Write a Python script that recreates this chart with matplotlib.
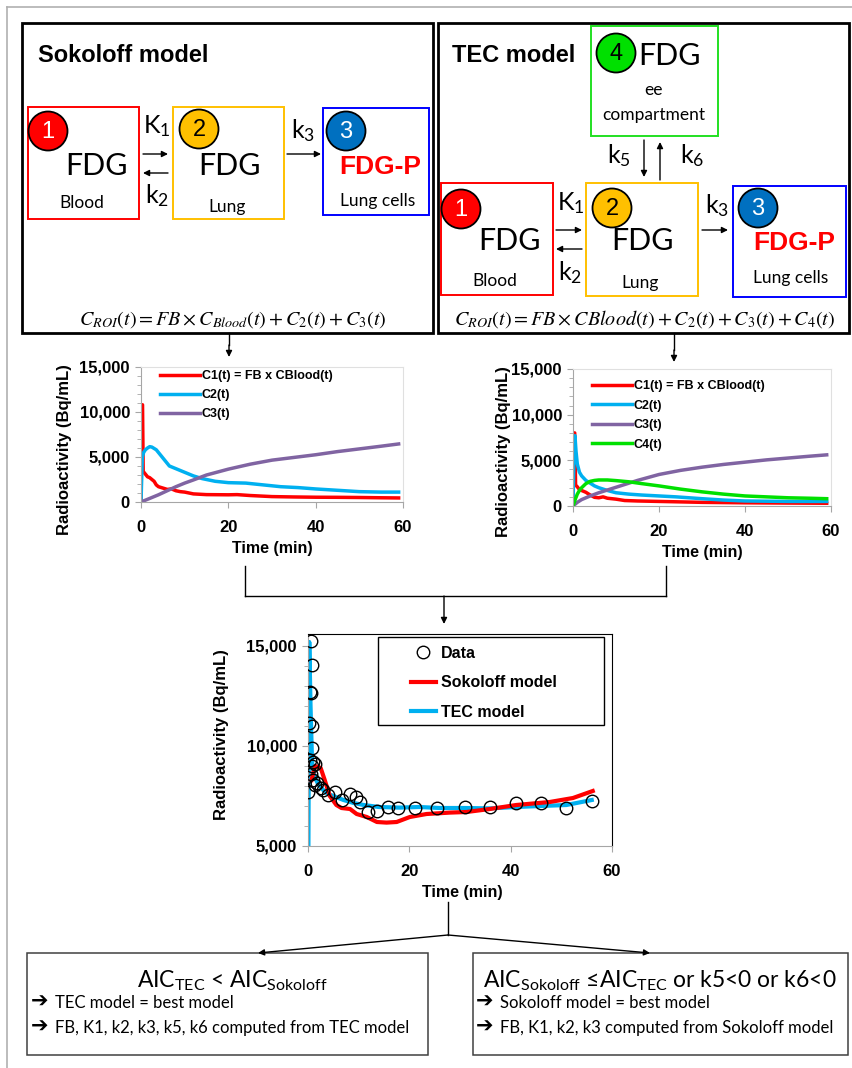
import matplotlib.pyplot as plt
from matplotlib.patches import Rectangle, Circle
from matplotlib.lines import Line2D
from matplotlib.ticker import FuncFormatter, MultipleLocator

W, H = 853, 1068
plt.rcParams['mathtext.fontset'] = 'custom'
plt.rcParams['mathtext.rm'] = 'Lato'
plt.rcParams['mathtext.it'] = 'Lato:italic'
plt.rcParams['mathtext.bf'] = 'Lato:bold'

CAL = ['Lato', 'DejaVu Sans']
ARIAL = 'Liberation Sans'

RED, ORANGE, BLUE, GREEN = '#FF0000', '#FFC000', '#0000FF', '#22E022'
CYAN, PURPLE, LIME = '#00B0F0', '#8064A2', '#00E000'

# --- Sokoloff model curves (Bq/mL vs min)
sok_c1_t = [0, 0.15, 0.35, 0.5, 1, 1.5, 2, 2.5, 3, 3.5, 4, 5, 6, 7, 8, 9, 10, 12, 15, 20, 22, 25, 30, 35, 40, 45, 50, 55, 59]
sok_c1_v = [0, 10800, 10800, 3400, 3100, 2800, 2700, 2500, 2300, 1900, 1700, 1550, 1400, 1450, 1250, 1150, 1100, 900, 820, 800, 820, 720, 600, 560, 530, 520, 500, 470, 450]
sok_c2_t = [0, 0.3, 0.6, 1.0, 1.5, 2.0, 2.5, 3.5, 4.5, 5.5, 6.5, 8, 10, 12, 14, 17, 20, 24, 28, 32, 36, 40, 45, 50, 55, 59]
sok_c2_v = [0, 5000, 5500, 5800, 6000, 6150, 6100, 5800, 5200, 4600, 4000, 3700, 3300, 2900, 2600, 2300, 2150, 2100, 1900, 1700, 1600, 1450, 1300, 1150, 1100, 1100]
sok_c3_t = [0, 2, 4, 6, 8, 10, 12, 15, 20, 25, 30, 35, 40, 45, 50, 55, 59]
sok_c3_v = [0, 400, 800, 1250, 1700, 2100, 2450, 3000, 3650, 4200, 4650, 4950, 5250, 5600, 5900, 6200, 6450]

# --- TEC model curves
tec_c1_t = [0, 0.1, 0.4, 0.6, 1.0, 1.5, 2, 3, 4, 5, 6, 7, 8, 10, 12, 15, 20, 25, 30, 40, 50, 59]
tec_c1_v = [0, 8000, 8000, 2300, 2100, 1800, 1700, 1500, 1200, 950, 900, 1000, 850, 750, 600, 550, 500, 450, 400, 350, 320, 300]
tec_c2_t = [0, 0.2, 0.45, 0.7, 1.0, 1.5, 2, 3, 4, 5, 6, 8, 10, 13, 16, 20, 24, 30, 35, 40, 50, 59]
tec_c2_v = [0, 5000, 7700, 6000, 4600, 3700, 3300, 2800, 2500, 2200, 2000, 1700, 1450, 1300, 1200, 1100, 1000, 800, 650, 550, 500, 500]
tec_c3_t = [0, 1, 2, 4, 6, 8, 10, 12, 15, 20, 25, 30, 35, 40, 45, 50, 55, 59]
tec_c3_v = [0, 400, 700, 1100, 1450, 1750, 2050, 2350, 2800, 3450, 3900, 4250, 4550, 4800, 5050, 5250, 5450, 5600]
tec_c4_t = [0, 0.5, 1, 1.5, 2, 3, 4, 5, 6, 8, 10, 13, 16, 20, 25, 30, 35, 40, 45, 50, 55, 59]
tec_c4_v = [0, 700, 1300, 1700, 2000, 2450, 2700, 2800, 2850, 2850, 2780, 2650, 2450, 2200, 1850, 1550, 1300, 1100, 1000, 900, 850, 800]

# --- measured ROI data and both fits
data_t = [0.6, 0.7, 0.4, 0.5, 0.2, 0.7, 0.7, 0.4, 1.0, 0.7, 1.3, 0.5, 1.0, 1.7, 1.3, 0.0, 2.5, 3.0, 4.0,
          5.4, 6.8, 8.3, 9.4, 10.3, 11.9, 13.7, 15.7, 17.7, 21.1, 25.4, 31.0, 36.0, 41.1, 46.0, 50.9, 56.0]
data_v = [15250, 14050, 12700, 12650, 11150, 11000, 9900, 9300, 9200, 9000, 9100, 8600, 8300, 8150, 8050, 7700, 7900, 7800, 7550,
          7700, 7300, 7600, 7450, 7200, 6700, 6750, 6950, 6920, 6920, 6880, 6930, 6930, 7150, 7130, 6920, 7250]
sok_fit_t = [0.7, 1.0, 1.4, 2.0, 2.5, 3.3, 4.3, 5.6, 6.6, 8.3, 9.6, 11.6, 13.6, 15.5, 17.5, 20.1, 23.4, 28.0, 31.3, 35.9, 41.1, 47.7, 52.3, 56.2]
sok_fit_v = [8300, 8600, 9000, 8950, 8900, 8300, 7500, 7050, 6900, 6850, 6600, 6450, 6200, 6170, 6200, 6450, 6600, 6670, 6700, 6850, 7050, 7200, 7400, 7750]
tec_fit_t = [0, 0.25, 0.5, 0.8, 1.2, 1.6, 2.0, 3, 4, 5, 7, 9, 11, 14, 18, 22, 26, 31, 36, 41, 46, 51, 56]
tec_fit_v = [0, 15200, 12000, 9200, 8600, 8300, 8100, 7800, 7600, 7500, 7300, 7150, 7050, 6950, 6920, 6950, 6900, 6900, 6880, 6950, 7000, 7050, 7300]

fig = plt.figure(figsize=(W / 100, H / 100), dpi=100)
cv = fig.add_axes([0, 0, 1, 1])
cv.set_xlim(0, W)
cv.set_ylim(H, 0)
cv.axis('off')


def box(x0, y0, x1, y1, color, lw=1.4):
    cv.add_patch(Rectangle((x0, y0), x1 - x0, y1 - y0, fill=False, ec=color, lw=lw))


def badge(cx, cy, label, face, tc):
    cv.add_patch(Circle((cx, cy), 19.5, fc=face, ec='black', lw=1.3, zorder=3))
    cv.text(cx, cy + 1, label, ha='center', va='center', color=tc, family=ARIAL, fontsize=17, zorder=4)


def t(x, y, s, size, ha='center', **kw):
    kw.setdefault('family', CAL)
    cv.text(x, y, s, ha=ha, va='baseline', fontsize=size, **kw)


def arrow(x0, y0, x1, y1, lw=1.0):
    cv.annotate('', xy=(x1, y1), xytext=(x0, y0),
                arrowprops=dict(arrowstyle='-|>', color='black', lw=lw, mutation_scale=9,
                                shrinkA=0, shrinkB=0))


def line(xs, ys, lw=1.0, color='black'):
    cv.add_line(Line2D(xs, ys, color=color, lw=lw))


# outer frame
line([7, 7], [7, H], color='#B0B0B0', lw=1.2)
line([7, W], [7, 7], color='#B0B0B0', lw=1.2)

# ---------------- Sokoloff panel
box(22, 23, 433, 333, 'black', lw=2)
t(38, 62, 'Sokoloff model', 17, ha='left', family=ARIAL, weight='bold')
box(28, 107, 139, 219, RED)
box(173, 107, 284, 219, ORANGE)
box(323, 108, 429, 215, BLUE)
badge(48, 131, '1', RED, 'white')
badge(199, 129, '2', ORANGE, 'black')
badge(346, 131, '3', '#0070C0', 'white')
t(97, 175, 'FDG', 22)
t(230, 175, 'FDG', 22)
t(380, 174, 'FDG-P', 19, color=RED, family=ARIAL, weight='bold')
t(82, 208, 'Blood', 12.5)
t(227, 212, 'Lung', 12.5)
t(378, 206, 'Lung cells', 12.5)
t(143, 133, 'K$_1$', 18, ha='left')
t(145, 203, 'k$_2$', 18, ha='left')
t(291, 138, 'k$_3$', 18, ha='left')
arrow(143, 154, 168, 154)
arrow(168, 173, 143, 173)
arrow(287, 154, 321, 154)
t(233, 325, r'$C_{ROI}(t) = FB \times C_{Blood}(t) + C_2(t) + C_3(t)$', 14.5, math_fontfamily='stix')

# ---------------- TEC panel
box(438, 23, 849, 333, 'black', lw=2)
t(452, 62, 'TEC model', 17, ha='left', family=ARIAL, weight='bold')
box(591, 26, 718, 136, GREEN)
box(441, 183, 553, 295, RED)
box(586, 183, 698, 296, ORANGE)
box(733, 186, 846, 297, BLUE)
badge(616, 53, '4', LIME, 'black')
badge(461, 209, '1', RED, 'white')
badge(612, 208, '2', ORANGE, 'black')
badge(758, 208, '3', '#0070C0', 'white')
t(670, 65, 'FDG', 22)
t(654, 95, 'ee', 12.5)
t(654, 120, 'compartment', 12.5)
t(510, 250, 'FDG', 22)
t(643, 250, 'FDG', 22)
t(794, 250, 'FDG-P', 19, color=RED, family=ARIAL, weight='bold')
t(495, 286, 'Blood', 12.5)
t(640, 288, 'Lung', 12.5)
t(791, 283, 'Lung cells', 12.5)
t(607, 163, 'k$_5$', 18, ha='left')
t(680, 163, 'k$_6$', 18, ha='left')
t(557, 210, 'K$_1$', 18, ha='left')
t(558, 280, 'k$_2$', 18, ha='left')
t(705, 213, 'k$_3$', 18, ha='left')
arrow(644, 140, 644, 177)
arrow(660, 180, 660, 142)
arrow(556, 230, 582, 230)
arrow(582, 249, 556, 249)
arrow(702, 230, 728, 230)
t(645, 325, r'$C_{ROI}(t) = FB \times CBlood(t) + C_2(t) + C_3(t) + C_4(t)$', 14.5, math_fontfamily='stix')

# ---------------- connectors
line([229, 229], [333, 345])
arrow(229, 345, 229, 357)
line([674, 674], [333, 350])
arrow(674, 350, 674, 362)
line([245, 245], [566, 596])
line([666, 666], [566, 596])
line([245, 666], [596, 596])
arrow(444, 596, 444, 624)
line([448, 448], [902, 935])
arrow(448, 935, 258, 953)
arrow(448, 935, 650, 953)


def chart_ax(x0, y0, x1, y1):
    return fig.add_axes([x0 / W, 1 - y1 / H, (x1 - x0) / W, (y1 - y0) / H])


def style(ax, ylo, yhi, edge_top):
    ax.set_xlim(0, 60)
    ax.set_ylim(ylo, yhi)
    ax.set_xticks([0, 20, 40, 60])
    ax.set_yticks(range(ylo, 15001, 5000))
    ax.yaxis.set_minor_locator(MultipleLocator(1000))
    ax.yaxis.set_major_formatter(FuncFormatter(lambda v, p: f'{v:,.0f}'))
    for s in ('left', 'bottom'):
        ax.spines[s].set_color('#A6A6A6')
    for s in ('top', 'right'):
        ax.spines[s].set_color(edge_top)
    ax.tick_params(which='both', direction='out', color='#A6A6A6')
    ax.tick_params(axis='y', which='major', length=4, pad=4)
    ax.tick_params(axis='y', which='minor', length=3)
    ax.tick_params(axis='x', length=4, pad=9)
    for lab in ax.get_xticklabels() + ax.get_yticklabels():
        lab.set_family(ARIAL)
        lab.set_fontweight('bold')
        lab.set_fontsize(12)


def axis_labels(xl, yl):
    cv.text(xl[0], xl[1], 'Time (min)', ha='center', va='center', family=ARIAL, weight='bold', fontsize=11.5)
    cv.text(yl[0], yl[1], 'Radioactivity (Bq/mL)', ha='center', va='center', rotation=90,
            family=ARIAL, weight='bold', fontsize=12)


leg_font = dict(family=ARIAL, weight='bold', size=9)

# left small chart
ax1 = chart_ax(141, 367, 403, 502)
ax1.plot(sok_c1_t, sok_c1_v, color=RED, lw=2.5, label='C1(t) = FB x CBlood(t)')
ax1.plot(sok_c2_t, sok_c2_v, color=CYAN, lw=2.5, label='C2(t)')
ax1.plot(sok_c3_t, sok_c3_v, color=PURPLE, lw=2.5, label='C3(t)')
style(ax1, 0, 15000, '#E0E0E0')
ax1.legend(loc='upper left', bbox_to_anchor=(0.03, 1.06), frameon=False, prop=leg_font,
           handlelength=3.2, handletextpad=0.15, labelspacing=0.55)
axis_labels((272, 549), (65, 450))

# right small chart
ax2 = chart_ax(573, 369, 831, 506)
ax2.plot(tec_c1_t, tec_c1_v, color=RED, lw=2.5, label='C1(t) = FB x CBlood(t)')
ax2.plot(tec_c2_t, tec_c2_v, color=CYAN, lw=2.5, label='C2(t)')
ax2.plot(tec_c3_t, tec_c3_v, color=PURPLE, lw=2.5, label='C3(t)')
ax2.plot(tec_c4_t, tec_c4_v, color=LIME, lw=2.5, label='C4(t)')
style(ax2, 0, 15000, '#E0E0E0')
ax2.legend(loc='upper left', bbox_to_anchor=(0.03, 1.0), frameon=False, prop=leg_font,
           handlelength=3.2, handletextpad=0.15, labelspacing=0.6)
axis_labels((702, 552), (504, 452))

# bottom comparison chart
ax3 = chart_ax(308, 634, 612, 846)
ax3.plot(tec_fit_t, tec_fit_v, color=CYAN, lw=3, label='TEC model', zorder=2)
ax3.plot(sok_fit_t, sok_fit_v, color=RED, lw=3, label='Sokoloff model', zorder=3)
ax3.plot(data_t, data_v, 'o', ms=9, mfc='none', mec='black', mew=1.0, label='Data', zorder=4)
style(ax3, 5000, 15600, 'black')
h, l = ax3.get_legend_handles_labels()
ax3.legend(h[::-1], l[::-1], loc='upper left', bbox_to_anchor=(0.29, 1.013), frameon=False,
           prop=dict(family=ARIAL, weight='bold', size=11.5), handlelength=1.6,
           handletextpad=0.3, labelspacing=0.92)
ax3.add_patch(Rectangle((0.23, 0.571), 0.743, 0.415, transform=ax3.transAxes, fill=False,
                        ec='black', lw=1.0, zorder=5))
axis_labels((462, 892), (222, 735))

# ---------------- decision boxes
box(27, 953, 428, 1055, '#404040', lw=1.1)
box(473, 953, 848, 1055, '#404040', lw=1.1)
t(232, 987, r'AIC$_{\mathrm{TEC}}$ < AIC$_{\mathrm{Sokoloff}}$', 16.5)
t(660, 987, r'AIC$_{\mathrm{Sokoloff}}$ ≤AIC$_{\mathrm{TEC}}$ or k5<0 or k6<0', 16.5)
for x0, lines in ((31, ['TEC model = best model', 'FB, K1, k2, k3, k5, k6 computed from TEC model']),
                  (476, ['Sokoloff model = best model', 'FB, K1, k2, k3 computed from Sokoloff model'])):
    for y, s in zip((1008, 1033), lines):
        t(x0, y, '➔', 15, ha='left', family='DejaVu Sans', weight='bold')
        t(x0 + 24, y, s, 12, ha='left')

fig.savefig('out.png', dpi=100)
